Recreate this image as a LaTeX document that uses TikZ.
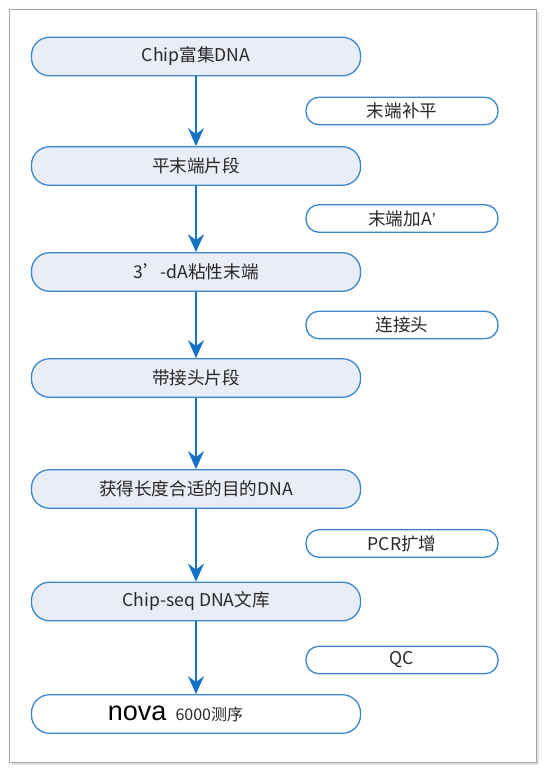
\documentclass[tikz,border=0pt]{standalone}
\usepackage{fontspec}
\setmainfont{Noto Sans CJK SC}
\newfontfamily\novafont{Liberation Sans}
\usetikzlibrary{arrows.meta,shadows}

\definecolor{boxblue}{HTML}{3A86CF}
\definecolor{boxfill}{HTML}{E8EDF8}
\definecolor{arrowblue}{HTML}{1672C4}
\definecolor{txtgray}{HTML}{2B2728}

\begin{document}
\begin{tikzpicture}[x=1pt,y=-1pt,font=\fontsize{17.6}{20}\selectfont,text=txtgray]
	\tikzstyle{stepbox}=[draw=boxblue,fill=boxfill,line width=1.3pt,rounded corners=18pt,minimum width=329pt,minimum height=38.5pt,inner sep=0pt]
	\tikzstyle{sidebox}=[draw=boxblue,fill=white,line width=1.3pt,rounded corners=13pt,minimum width=192pt,minimum height=27.5pt,inner sep=0pt]
	\tikzstyle{flow}=[-{Stealth[length=18pt,width=16pt,inset=6pt]},draw=arrowblue,fill=arrowblue,line width=1.4pt]

	\useasboundingbox (0,0) rectangle (551,776);
	\draw[gray!70,fill=white,drop shadow={shadow xshift=3pt,shadow yshift=-3pt,opacity=0.25}] (9.3,9.3) rectangle (536,761.7);

	\node[stepbox] (chip) at (196,56.5) {Chip富集DNA};
	\node[stepbox] (blunt) at (196,166) {平末端片段};
	\node[stepbox] (sticky) at (196,272) {3’-dA粘性末端};
	\node[stepbox] (adapt) at (196,378) {带接头片段};
	\node[stepbox] (sized) at (196,489) {获得长度合适的目的DNA};
	\node[stepbox] (lib) at (196,601.5) {Chip-seq DNA文库};
	\node[stepbox,fill=white] (seq) at (196,714) {{\novafont\fontsize{27}{30}\selectfont\color{black}nova}\hspace{9pt}{\fontsize{16}{18}\selectfont 6000测序}\kern41pt};

	\node[sidebox] (repair) at (402,111) {末端补平};
	\node[sidebox] (atail) at (402,218.5) {末端加A{\novafont ’}};
	\node[sidebox] (ligate) at (402,325) {连接头};
	\node[sidebox] (pcr) at (402,543.5) {PCR扩增};
	\node[sidebox] (qc) at (402,660) {QC};

	\draw[flow] (chip) -- (blunt);
	\draw[flow] (blunt) -- (sticky);
	\draw[flow] (sticky) -- (adapt);
	\draw[flow] (adapt) -- (sized);
	\draw[flow] (sized) -- (lib);
	\draw[flow] (lib) -- (seq);
\end{tikzpicture}
\end{document}
